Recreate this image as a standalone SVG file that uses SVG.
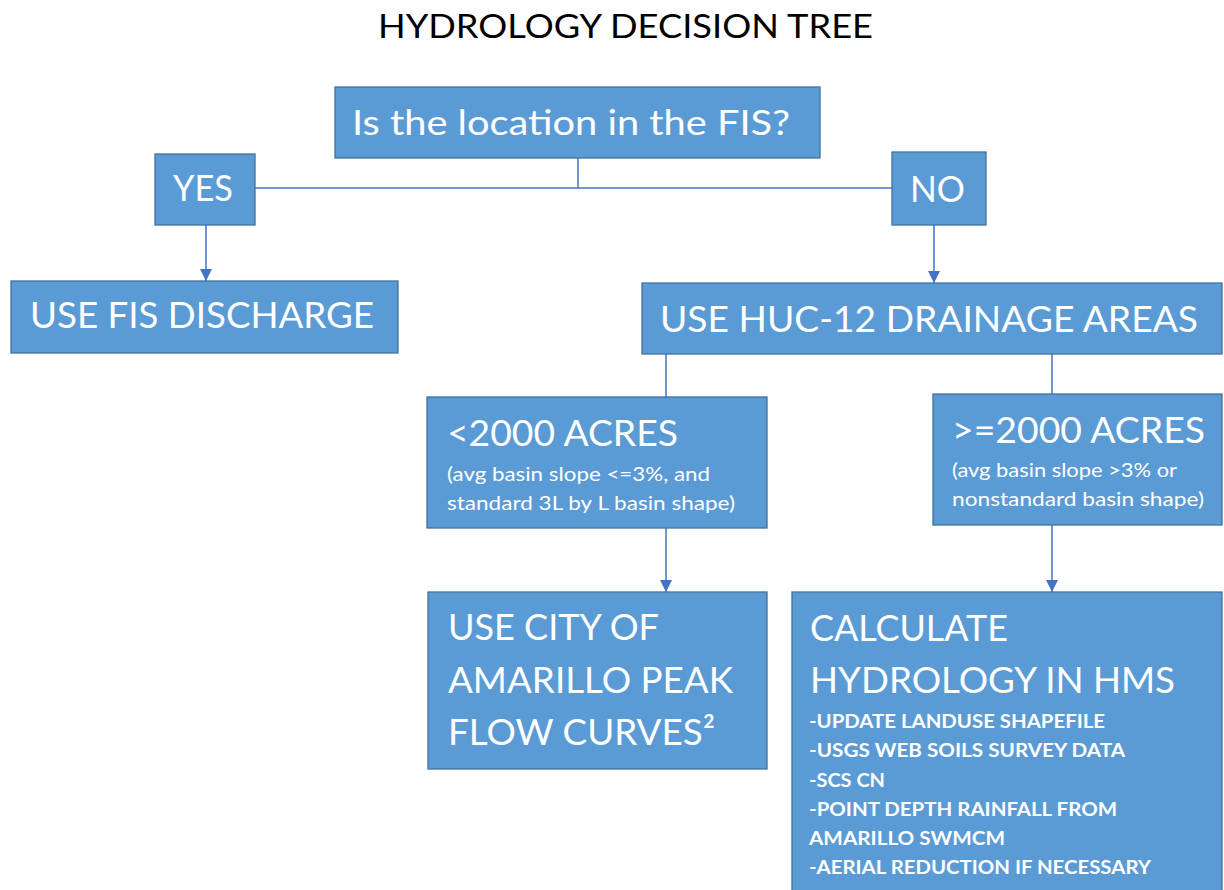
<svg xmlns="http://www.w3.org/2000/svg" width="1224" height="890" viewBox="0 0 1224 890">
<defs>
<style>
.box{fill:#5B9BD5;stroke:#41719C;stroke-width:1.3}
.t{font-family:Lato,"Open Sans","Liberation Sans",sans-serif;fill:#FFFFFF}
.big{font-size:37px}
.sm{font-size:19px}
.li{font-size:19px;font-weight:bold}
.title{font-family:Lato,"Open Sans","Liberation Sans",sans-serif;font-size:32px;fill:#000000}
.c{fill:none;stroke:#4472C4;stroke-width:1.5}
</style>
<marker id="ah" markerUnits="userSpaceOnUse" markerWidth="12" markerHeight="12" refX="12" refY="6" orient="auto">
<path d="M0,0 L12,6 L0,12 z" fill="#4472C4"/>
</marker>
</defs>
<rect width="1224" height="890" fill="#FFFFFF"/>
<g id="title">
<text class="title" x="378" y="38" textLength="495" lengthAdjust="spacingAndGlyphs">HYDROLOGY DECISION TREE</text>
</g>
<g id="connectors">
<path class="c" d="M578,158 V188"/>
<path class="c" d="M255,188 H892"/>
<path class="c" d="M206,225 V281" marker-end="url(#ah)"/>
<path class="c" d="M934,225 V283" marker-end="url(#ah)"/>
<path class="c" d="M666,354 V397"/>
<path class="c" d="M1052,354 V394"/>
<path class="c" d="M666,528 V592" marker-end="url(#ah)"/>
<path class="c" d="M1052,525 V592" marker-end="url(#ah)"/>
</g>
<g id="n-question">
<rect class="box" x="335" y="87" width="485" height="71"/>
<text class="t" x="352" y="135" font-size="34" textLength="438" lengthAdjust="spacingAndGlyphs">Is the location in the FIS?</text>
</g>
<g id="n-yes">
<rect class="box" x="155" y="154" width="100" height="71"/>
<text class="t big" x="173" y="201" textLength="60" lengthAdjust="spacingAndGlyphs">YES</text>
</g>
<g id="n-no">
<rect class="box" x="892" y="152" width="94" height="73"/>
<text class="t big" x="910" y="202" textLength="55" lengthAdjust="spacingAndGlyphs">NO</text>
</g>
<g id="n-fis">
<rect class="box" x="11" y="281" width="387" height="72"/>
<text class="t big" x="30" y="328" textLength="344" lengthAdjust="spacingAndGlyphs">USE FIS DISCHARGE</text>
</g>
<g id="n-huc">
<rect class="box" x="642" y="283" width="580" height="71"/>
<text class="t big" x="660" y="332" textLength="538" lengthAdjust="spacingAndGlyphs">USE HUC-12 DRAINAGE AREAS</text>
</g>
<g id="n-lt2000">
<rect class="box" x="427" y="397" width="340" height="131"/>
<text class="t big" x="447" y="446" textLength="231" lengthAdjust="spacingAndGlyphs">&lt;2000 ACRES</text>
<text class="t sm" x="447" y="481" textLength="263" lengthAdjust="spacingAndGlyphs">(avg basin slope &lt;=3%, and</text>
<text class="t sm" x="447" y="510" textLength="288" lengthAdjust="spacingAndGlyphs">standard 3L by L basin shape)</text>
</g>
<g id="n-ge2000">
<rect class="box" x="933" y="394" width="289" height="131"/>
<text class="t big" x="952" y="443" textLength="253" lengthAdjust="spacingAndGlyphs">&gt;=2000 ACRES</text>
<text class="t sm" x="952" y="477" textLength="225" lengthAdjust="spacingAndGlyphs">(avg basin slope &gt;3% or</text>
<text class="t sm" x="952" y="506" textLength="252" lengthAdjust="spacingAndGlyphs">nonstandard basin shape)</text>
</g>
<g id="n-city">
<rect class="box" x="428" y="592" width="339" height="177"/>
<text class="t big" x="448" y="640" textLength="211" lengthAdjust="spacingAndGlyphs">USE CITY OF</text>
<text class="t big" x="448" y="693" textLength="285" lengthAdjust="spacingAndGlyphs">AMARILLO PEAK</text>
<text class="t big" x="448" y="745" textLength="267" lengthAdjust="spacingAndGlyphs">FLOW CURVES²</text>
</g>
<g id="n-calc">
<rect class="box" x="792" y="592" width="430" height="310"/>
<text class="t big" x="810" y="641" textLength="198" lengthAdjust="spacingAndGlyphs">CALCULATE</text>
<text class="t big" x="810" y="693" textLength="365" lengthAdjust="spacingAndGlyphs">HYDROLOGY IN HMS</text>
<text class="t li" x="809" y="728" textLength="296" lengthAdjust="spacingAndGlyphs">-UPDATE LANDUSE SHAPEFILE</text>
<text class="t li" x="809" y="757" textLength="316" lengthAdjust="spacingAndGlyphs">-USGS WEB SOILS SURVEY DATA</text>
<text class="t li" x="809" y="787" textLength="76" lengthAdjust="spacingAndGlyphs">-SCS CN</text>
<text class="t li" x="809" y="816" textLength="308" lengthAdjust="spacingAndGlyphs">-POINT DEPTH RAINFALL FROM</text>
<text class="t li" x="809" y="845" textLength="196" lengthAdjust="spacingAndGlyphs">AMARILLO SWMCM</text>
<text class="t li" x="809" y="874" textLength="342" lengthAdjust="spacingAndGlyphs">-AERIAL REDUCTION IF NECESSARY</text>
</g>
</svg>
